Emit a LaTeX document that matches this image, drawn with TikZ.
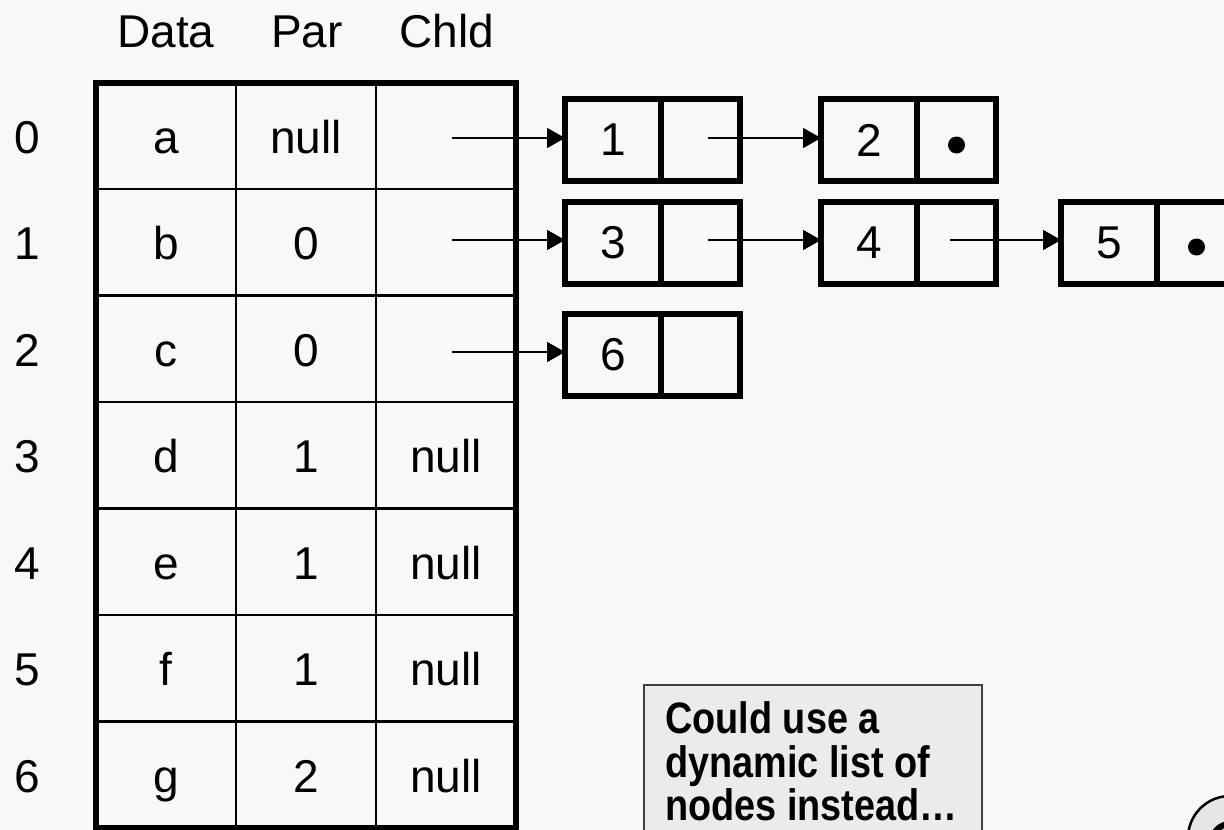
\documentclass[tikz,border=0pt]{standalone}
\usepackage{fontspec}
\setmainfont{Liberation Sans}
\newfontfamily\boxfont[FakeStretch=0.86]{Liberation Sans}
\usetikzlibrary{arrows.meta}
\definecolor{bg}{HTML}{F8F8F8}
\definecolor{notefill}{HTML}{EBEBEB}
\definecolor{noteline}{HTML}{404040}
\definecolor{btnfill}{HTML}{E6E6E6}
\begin{document}
\begin{tikzpicture}[x=1pt,y=-1pt,
  lbl/.style={anchor=base, font=\fontsize{46}{52}\selectfont, inner sep=0pt},
  dcell/.style={draw, line width=6pt, minimum width=96pt, minimum height=82pt, inner sep=0pt, outer sep=0pt, anchor=north west, font=\fontsize{46}{52}\selectfont},
  pcell/.style={draw, line width=6pt, minimum width=79pt, minimum height=82pt, inner sep=0pt, outer sep=0pt, anchor=north west},
  ptr/.style={line width=1.6pt, -{Triangle[length=18pt,width=20pt]}},
  grid/.style={line width=2.8pt},
  notetxt/.style={anchor=base west, inner sep=0pt, font=\boxfont\bfseries\fontsize{44}{44}\selectfont}]
\fill[bg] (0,0) rectangle (1224,830);
\useasboundingbox (0,0) rectangle (1224,830);
% table
\draw[grid] (236,82.5) -- (236,828) (376,82.5) -- (376,828);
\foreach \i in {1,...,6} \draw[grid] (96,82.5+106.5*\i) -- (516,82.5+106.5*\i);
\draw[line width=6pt] (96,82.5) rectangle (516,828);
% headers
\node[lbl] (hdata) at (166,47) {Data};
\node[lbl] (hpar) at (307,47) {Par};
\node[lbl] (hchld) at (447,47) {Chld};
% rows
\foreach \i/\d/\p/\c in {0/a/null/,1/b/0/,2/c/0/,3/d/1/null,4/e/1/null,5/f/1/null,6/g/2/null}{
  \node[lbl] (r\i) at (27,153+106.5*\i) {\i};
  \node[lbl] (d\i) at (166,153+106.5*\i) {\d};
  \node[lbl] (p\i) at (306,153+106.5*\i) {\p};
  \node[lbl] (c\i) at (446,153+106.5*\i) {\c};
}
\coordinate (t0) at (452,138);
\coordinate (t1) at (452,240);
\coordinate (t2) at (452,352);
% list nodes
\node[dcell] (n1d) at (565,99) {1};
\node[pcell] (n1p) at (n1d.north east) {};
\node[dcell] (n2d) at (821,99) {2};
\node[pcell] (n2p) at (n2d.north east) {};
\node[dcell] (n3d) at (565,202) {3};
\node[pcell] (n3p) at (n3d.north east) {};
\node[dcell] (n4d) at (821,202) {4};
\node[pcell] (n4p) at (n4d.north east) {};
\node[dcell] (n5d) at (1061,202) {5};
\node[pcell] (n5p) at (n5d.north east) {};
\node[dcell] (n6d) at (565,314) {6};
\node[pcell] (n6p) at (n6d.north east) {};
\fill ([yshift=-5pt]n2p.center) circle (8.5);
\fill ([yshift=-4pt]n5p.center) circle (8.5);
% pointers
\coordinate (s1) at (708,138);
\coordinate (s3) at (708,240);
\coordinate (s4) at (950,240);
\draw[ptr] (t0) -- (t0 -| n1d.west);
\draw[ptr] (s1) -- (s1 -| n2d.west);
\draw[ptr] (t1) -- (t1 -| n3d.west);
\draw[ptr] (s3) -- (s3 -| n4d.west);
\draw[ptr] (s4) -- (s4 -| n5d.west);
\draw[ptr] (t2) -- (t2 -| n6d.west);
% note
\node[draw=noteline, fill=notefill, line width=1.5pt, anchor=north west, minimum width=338pt, minimum height=180pt, inner sep=0pt] (note) at (643,684) {};
\node[notetxt] (note1) at (665,733) {Could use a};
\node[notetxt] (note2) at (665,777) {dynamic list of};
\node[notetxt] (note3) at (665,820) {nodes instead\ldots};
% button
\draw[fill=btnfill, line width=2.5pt] (1230,838) circle (42);
\draw[line width=6pt] (1230,842) circle (18);
\end{tikzpicture}
\end{document}
